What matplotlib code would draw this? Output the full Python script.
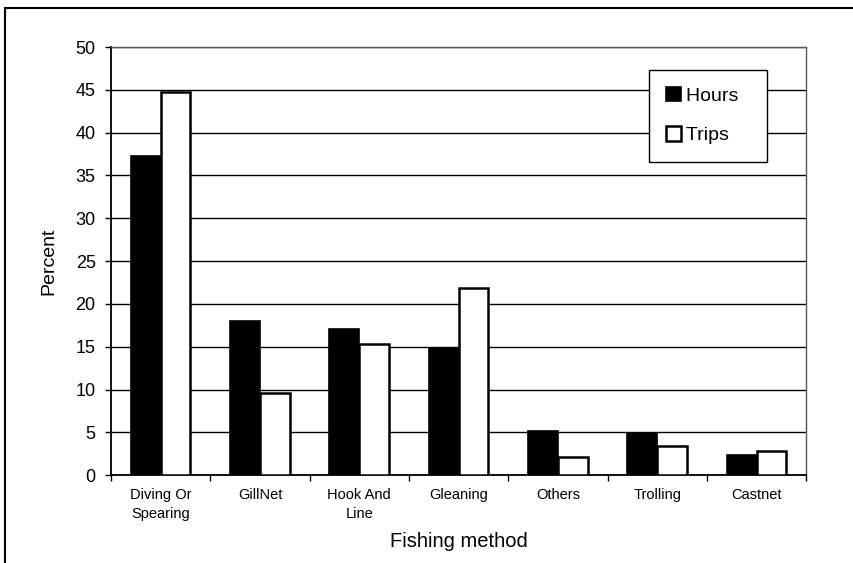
import matplotlib
matplotlib.use("Agg")
import matplotlib.pyplot as plt
import numpy as np
from matplotlib.patches import Rectangle

categories = ["Diving Or\nSpearing", "GillNet", "Hook And\nLine", "Gleaning", "Others", "Trolling", "Castnet"]
hours = [37.3, 18.0, 17.1, 14.9, 5.2, 4.9, 2.3]
trips = [44.8, 9.6, 15.3, 21.9, 2.1, 3.4, 2.8]
yticks = [0, 5, 10, 15, 20, 25, 30, 35, 40, 45, 50]

plt.rcParams['font.family'] = ['Liberation Sans', 'DejaVu Sans']

fig = plt.figure(figsize=(8.54, 5.63), dpi=100)
ax = fig.add_axes([0.130, 0.156, 0.814, 0.7605])

x = np.arange(len(categories))
w = 0.3
ax.bar(x - w/2, hours, w, color='black', edgecolor='black', linewidth=1.2, label='Hours', zorder=3)
ax.bar(x + w/2, trips, w, color='white', edgecolor='black', linewidth=1.8, label='Trips', zorder=3)

ax.set_xlim(-0.5, len(categories) - 0.5)
ax.set_ylim(0, 50)
ax.set_yticks(yticks)
ax.set_yticklabels([str(v) for v in yticks], fontsize=13)
ax.yaxis.grid(True, color='black', linewidth=1.0, zorder=0)
ax.set_axisbelow(True)

ax.set_xticks(x)
ax.set_xticklabels(categories, fontsize=10.5, linespacing=1.45)
ax.tick_params(axis='x', length=0, pad=9)
ax.set_xticks(np.arange(-0.5, len(categories), 1), minor=True)
ax.tick_params(axis='x', which='minor', length=4, direction='out', width=1)
ax.tick_params(axis='y', length=4, direction='out', width=1, pad=7)

for s in ['left', 'bottom']:
    ax.spines[s].set_color('black')
    ax.spines[s].set_linewidth(1.3)
for s in ['top', 'right']:
    ax.spines[s].set_color('#555555')
    ax.spines[s].set_linewidth(1.0)
    ax.spines[s].set_linestyle((0, (6, 1)))

ax.set_ylabel("Percent", fontsize=14, labelpad=13)
ax.set_xlabel("Fishing method", fontsize=14.5, labelpad=8)

leg = ax.legend(loc='upper right', bbox_to_anchor=(0.943, 0.947), fontsize=14,
                frameon=True, fancybox=False, edgecolor='black', framealpha=1,
                handlelength=0.75, handleheight=0.75, handletextpad=0.25,
                labelspacing=1.1, borderpad=0.9, borderaxespad=0)
leg.get_frame().set_linewidth(1.0)
fr = leg.get_frame()

# widen legend a bit via padding text
for t in leg.get_texts():
    t.set_text(t.get_text() + "  ")

# outer frame
fig.patches.append(Rectangle((5/854, -0.1), 1.2, 1.1 - 8/563, transform=fig.transFigure,
                             fill=False, edgecolor='black', linewidth=1.5))

fig.savefig("out.png", dpi=100)
